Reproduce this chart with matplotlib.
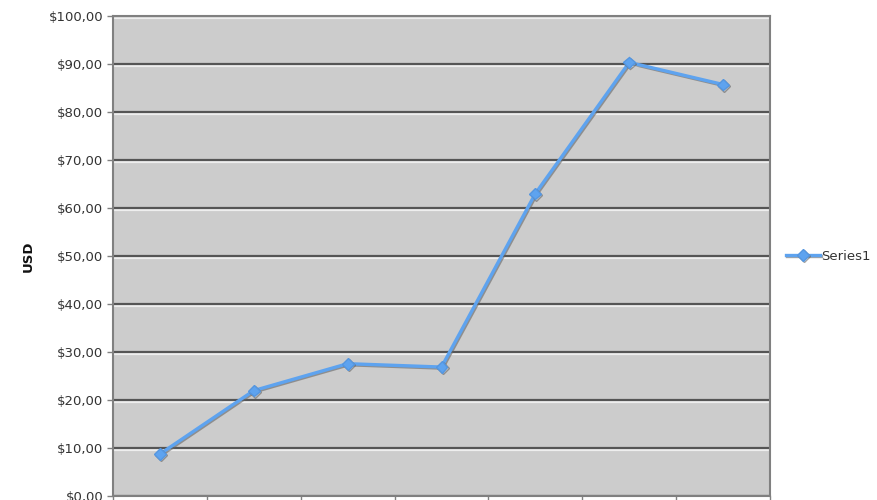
import matplotlib
matplotlib.use("Agg")
import matplotlib.pyplot as plt
import matplotlib.patheffects as pe
from matplotlib.ticker import FuncFormatter, MultipleLocator

# data (x labels are cut off in the reference)
categories = ["1", "2", "3", "4", "5", "6", "7"]
series1 = [8.8, 22.0, 27.6, 26.9, 63.0, 90.3, 85.7]
series_name = "Series1"


def money(v, pos):
    return "$" + ("%.2f" % v).replace(".", ",")


def main():
    fig = plt.figure(figsize=(8.77, 5.0), dpi=100)
    # bottom of the axes sits at the very edge, like the cropped original
    ax = fig.add_axes([113 / 877, 3.7 / 500, 657 / 877, 480.5 / 500])
    ax.set_facecolor("#cccccc")

    xs = list(range(len(categories)))
    ax.set_xlim(-0.5, len(categories) - 0.5)
    ax.set_ylim(0, 100)

    ax.yaxis.set_major_locator(MultipleLocator(10))
    ax.yaxis.set_major_formatter(FuncFormatter(money))
    ax.set_xticks([x - 0.5 for x in range(len(categories) + 1)])
    ax.set_xticklabels([])

    ax.grid(axis="y", color="#555555", linewidth=1.6,
            path_effects=[pe.SimpleLineShadow(offset=(0, -1.6), shadow_color="#eeeeee", alpha=1.0, rho=1.0),
                          pe.Normal()])
    ax.set_axisbelow(True)

    for s in ax.spines.values():
        s.set_color("#808080")
        s.set_linewidth(1.5)

    ax.tick_params(axis="y", length=4, width=1, color="#808080",
                   labelsize=9.5, labelcolor="#333333", pad=3)
    ax.tick_params(axis="x", length=5, width=1, color="#808080")

    ax.plot(xs, series1, color="#5ea3ef", linewidth=2.4, marker="D",
            markersize=6, markeredgecolor="#5496e0", label=series_name,
            path_effects=[pe.SimpleLineShadow(offset=(0.8, -0.8), shadow_color="#666666", alpha=0.6),
                          pe.Normal()])

    ax.set_ylabel("USD", fontsize=9.5, fontweight="bold", color="#111111", labelpad=10)

    leg = ax.legend(loc="center left", bbox_to_anchor=(1.0, 0.5), frameon=False,
                    fontsize=9.5, handlelength=2.6, handletextpad=0.1,
                    borderaxespad=0.8)
    for t in leg.get_texts():
        t.set_color("#333333")

    fig.savefig("out.png", dpi=100)


main()
